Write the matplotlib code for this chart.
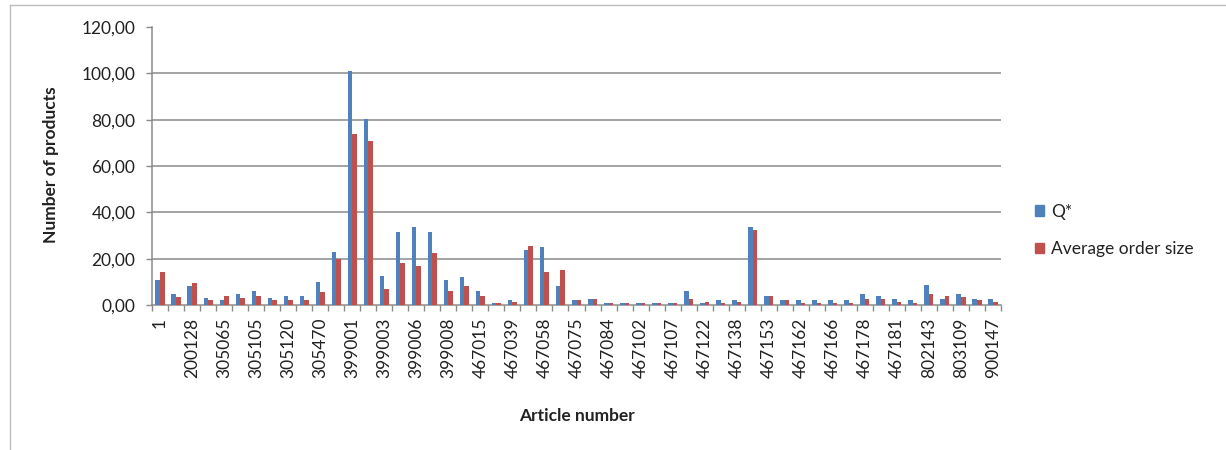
import matplotlib.pyplot as plt
import numpy as np
from matplotlib.lines import Line2D
from matplotlib.patches import Patch
from matplotlib.ticker import FuncFormatter

plt.rcParams['font.family'] = ['Lato', 'DejaVu Sans']

# article numbers shown on the axis (every second article)
article_labels = ['1', '200128', '305065', '305105', '305120', '305470', '399001',
                  '399003', '399006', '399008', '467015', '467039', '467058',
                  '467075', '467084', '467102', '467107', '467122', '467138',
                  '467153', '467162', '467166', '467178', '467181', '802143',
                  '803109', '900147']

q_star = [11.0, 4.7, 8.1, 2.9, 2.1, 4.7, 6.1, 2.9, 4.0, 4.0, 10.1, 23.0, 101.0,
          80.4, 12.7, 31.6, 33.6, 31.6, 10.9, 12.1, 6.1, 0.7, 2.0, 23.6, 25.0,
          8.1, 2.0, 2.7, 0.7, 0.7, 0.7, 0.7, 0.7, 6.1, 0.7, 2.0, 2.0, 33.6, 4.0,
          2.0, 2.0, 2.0, 2.0, 2.0, 4.7, 4.0, 2.7, 2.0, 8.7, 2.7, 4.7, 2.7, 2.7]
avg_order = [14.3, 3.4, 9.6, 2.1, 4.0, 2.9, 4.0, 2.1, 2.1, 2.1, 5.4, 19.7, 73.9,
             70.6, 6.9, 18.3, 16.9, 22.3, 6.1, 8.1, 4.1, 0.7, 1.4, 25.6, 14.3,
             15.0, 2.0, 2.7, 0.7, 0.7, 0.7, 0.7, 0.7, 2.7, 1.4, 0.7, 1.4, 32.4,
             4.0, 2.0, 0.7, 0.7, 0.7, 0.7, 2.7, 2.7, 1.4, 0.7, 4.7, 4.0, 3.4,
             2.0, 1.4]

BLUE = '#4f81bd'
RED = '#c0504d'
GRID = '#8a8a8a'
TXT = '#222222'

n = len(q_star)
x = np.arange(n)
w = 0.285

fig = plt.figure(figsize=(12.26, 4.5), dpi=100)
ax = fig.add_axes([152 / 1226, 1 - 305 / 450, (1001 - 152) / 1226, (305 - 27) / 450])

ax.bar(x - w / 2, q_star, w, color=BLUE, zorder=3)
ax.bar(x + w / 2, avg_order, w, color=RED, zorder=3)

ax.set_xlim(-0.5, n - 0.5)
ax.set_ylim(0, 120)
ax.set_yticks(np.arange(0, 121, 20))
ax.yaxis.set_major_formatter(FuncFormatter(lambda v, p: f'{v:.2f}'.replace('.', ',')))
for yv in range(20, 101, 20):
    ax.axhline(yv, color=GRID, lw=1.1, zorder=1)

ax.set_xticks(x[::2])
ax.set_xticklabels(article_labels, rotation=90)
ax.set_xticks(np.arange(n + 1) - 0.5, minor=True)
ax.tick_params(axis='x', which='major', length=0, pad=9, labelsize=12.5, labelcolor=TXT)
ax.tick_params(axis='x', which='minor', length=4, width=1, color=GRID)
ax.tick_params(axis='y', length=4, width=1, color=GRID, pad=8, labelsize=12.5, labelcolor=TXT)

for s in ['top', 'right']:
    ax.spines[s].set_visible(False)
for s in ['left', 'bottom']:
    ax.spines[s].set_color(GRID)
    ax.spines[s].set_linewidth(1.1)

fig.text(51 / 1226, 1 - 165 / 450, 'Number of products', rotation=90, ha='center',
         va='center', fontsize=12.5, fontweight='bold', color=TXT)
fig.text(577 / 1226, 1 - 416 / 450, 'Article number', ha='center', va='center',
         fontsize=12.5, fontweight='bold', color=TXT)

handles = [Patch(color=BLUE, label='Q*'), Patch(color=RED, label='Average order size')]
fig.legend(handles=handles, loc='upper left', bbox_to_anchor=(1019 / 1226, 1 - 188 / 450),
           frameon=False, fontsize=12.5, handlelength=0.55, handleheight=0.55,
           handletextpad=0.4, labelspacing=1.25, labelcolor=TXT)

# chart area frame (top and left edges)
fig.add_artist(Line2D([10 / 1226, 1], [1 - 5 / 450, 1 - 5 / 450], color='#bdbdbd', lw=1,
                      transform=fig.transFigure))
fig.add_artist(Line2D([10 / 1226, 10 / 1226], [0, 1 - 5 / 450], color='#bdbdbd', lw=1,
                      transform=fig.transFigure))

fig.savefig('out.png', dpi=100)
